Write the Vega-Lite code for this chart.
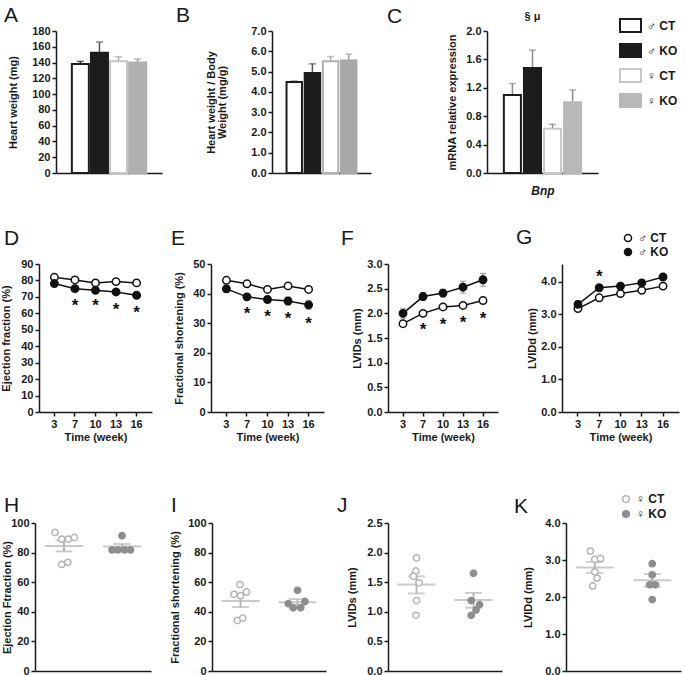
{
"$schema":"https://vega.github.io/schema/vega-lite/v6.json",
"padding":{"left":0,"top":5,"right":0,"bottom":0},
"background":"white",
"config":{
 "font":"Liberation Sans",
 "view":{"stroke":null},
 "axis":{"labelFont":"Liberation Sans","labelFontSize":11,"labelFontWeight":"bold","labelColor":"#1a1a1a","titleFont":"Liberation Sans","titleFontSize":11,"titleFontWeight":"bold","titleColor":"#1a1a1a","domainColor":"#1a1a1a","domainWidth":1.5,"tickColor":"#1a1a1a","tickWidth":1.5,"tickSize":4,"grid":false,"labelPadding":2,"labelOverlap":false},
 "axisY":{"titlePadding":0,"tickCount":30},
 "legend":{"labelFont":"Liberation Sans","labelFontSize":12,"labelFontWeight":"bold","labelColor":"#1a1a1a","padding":0,"title":null},
 "title":{"fontSize":21,"fontWeight":"normal","font":"Liberation Sans","anchor":"start","frame":"group","color":"#1a1a1a","baseline":"alphabetic"}
},
"datasets":{
 "bars":[
  {"panel":"A","group":"♂ CT","mean":138.3,"hi":141.5},
  {"panel":"A","group":"♂ KO","mean":152.3,"hi":166},
  {"panel":"A","group":"♀ CT","mean":141.7,"hi":147.5},
  {"panel":"A","group":"♀ KO","mean":140,"hi":144.5},
  {"panel":"B","group":"♂ CT","mean":4.48,"hi":4.52},
  {"panel":"B","group":"♂ KO","mean":4.93,"hi":5.38},
  {"panel":"B","group":"♀ CT","mean":5.51,"hi":5.74},
  {"panel":"B","group":"♀ KO","mean":5.55,"hi":5.86},
  {"panel":"C","group":"♂ CT","mean":1.1,"hi":1.26},
  {"panel":"C","group":"♂ KO","mean":1.48,"hi":1.73},
  {"panel":"C","group":"♀ CT","mean":0.625,"hi":0.685},
  {"panel":"C","group":"♀ KO","mean":0.995,"hi":1.17}
 ],
 "lines":[
  {"panel":"D","group":"♂ CT","week":3,"value":81.9,"lo":81.1,"hi":82.7},
  {"panel":"D","group":"♂ CT","week":7,"value":80.3,"lo":79.6,"hi":81.0},
  {"panel":"D","group":"♂ CT","week":10,"value":78.5,"lo":77.8,"hi":79.2},
  {"panel":"D","group":"♂ CT","week":13,"value":79.3,"lo":78.6,"hi":80.0},
  {"panel":"D","group":"♂ CT","week":16,"value":78.5,"lo":77.7,"hi":79.3},
  {"panel":"D","group":"♂ KO","week":3,"value":78.1,"lo":76.9,"hi":79.3},
  {"panel":"D","group":"♂ KO","week":7,"value":75.0,"lo":73.9,"hi":76.1},
  {"panel":"D","group":"♂ KO","week":10,"value":74.0,"lo":72.9,"hi":75.1},
  {"panel":"D","group":"♂ KO","week":13,"value":73.0,"lo":71.8,"hi":74.2},
  {"panel":"D","group":"♂ KO","week":16,"value":71.0,"lo":69.6,"hi":72.4},
  {"panel":"E","group":"♂ CT","week":3,"value":44.5,"lo":43.8,"hi":45.2},
  {"panel":"E","group":"♂ CT","week":7,"value":43.3,"lo":42.5,"hi":44.1},
  {"panel":"E","group":"♂ CT","week":10,"value":41.4,"lo":40.8,"hi":42.0},
  {"panel":"E","group":"♂ CT","week":13,"value":42.6,"lo":42.0,"hi":43.2},
  {"panel":"E","group":"♂ CT","week":16,"value":41.4,"lo":40.7,"hi":42.1},
  {"panel":"E","group":"♂ KO","week":3,"value":41.6,"lo":40.4,"hi":42.8},
  {"panel":"E","group":"♂ KO","week":7,"value":38.9,"lo":38.0,"hi":39.8},
  {"panel":"E","group":"♂ KO","week":10,"value":38.0,"lo":37.2,"hi":38.8},
  {"panel":"E","group":"♂ KO","week":13,"value":37.5,"lo":36.2,"hi":38.8},
  {"panel":"E","group":"♂ KO","week":16,"value":36.2,"lo":34.7,"hi":37.7},
  {"panel":"F","group":"♂ CT","week":3,"value":1.79,"lo":1.73,"hi":1.85},
  {"panel":"F","group":"♂ CT","week":7,"value":2.0,"lo":1.97,"hi":2.03},
  {"panel":"F","group":"♂ CT","week":10,"value":2.13,"lo":2.10,"hi":2.16},
  {"panel":"F","group":"♂ CT","week":13,"value":2.16,"lo":2.13,"hi":2.19},
  {"panel":"F","group":"♂ CT","week":16,"value":2.26,"lo":2.22,"hi":2.30},
  {"panel":"F","group":"♂ KO","week":3,"value":2.0,"lo":1.9,"hi":2.1},
  {"panel":"F","group":"♂ KO","week":7,"value":2.34,"lo":2.26,"hi":2.42},
  {"panel":"F","group":"♂ KO","week":10,"value":2.41,"lo":2.33,"hi":2.49},
  {"panel":"F","group":"♂ KO","week":13,"value":2.53,"lo":2.41,"hi":2.65},
  {"panel":"F","group":"♂ KO","week":16,"value":2.68,"lo":2.55,"hi":2.81},
  {"panel":"G","group":"♂ CT","week":3,"value":3.18,"lo":3.1,"hi":3.26},
  {"panel":"G","group":"♂ CT","week":7,"value":3.51,"lo":3.48,"hi":3.54},
  {"panel":"G","group":"♂ CT","week":10,"value":3.64,"lo":3.61,"hi":3.67},
  {"panel":"G","group":"♂ CT","week":13,"value":3.74,"lo":3.7,"hi":3.78},
  {"panel":"G","group":"♂ CT","week":16,"value":3.87,"lo":3.83,"hi":3.91},
  {"panel":"G","group":"♂ KO","week":3,"value":3.31,"lo":3.2,"hi":3.42},
  {"panel":"G","group":"♂ KO","week":7,"value":3.82,"lo":3.77,"hi":3.87},
  {"panel":"G","group":"♂ KO","week":10,"value":3.87,"lo":3.82,"hi":3.92},
  {"panel":"G","group":"♂ KO","week":13,"value":3.97,"lo":3.91,"hi":4.03},
  {"panel":"G","group":"♂ KO","week":16,"value":4.15,"lo":4.09,"hi":4.21}
 ],
 "stars":[
  {"panel":"D","week":7,"y":66.7},{"panel":"D","week":10,"y":66.7},{"panel":"D","week":13,"y":64.7},{"panel":"D","week":16,"y":62.7},
  {"panel":"E","week":7,"y":34.3},{"panel":"E","week":10,"y":33.6},{"panel":"E","week":13,"y":32.8},{"panel":"E","week":16,"y":31.0},
  {"panel":"F","week":7,"y":1.74},{"panel":"F","week":10,"y":1.84},{"panel":"F","week":13,"y":1.88},{"panel":"F","week":16,"y":1.96},
  {"panel":"G","week":7,"y":4.26}
 ],
 "dots":[
  {"panel":"H","group":"♀ CT","value":93.6,"jit":-3.1},
  {"panel":"H","group":"♀ CT","value":89.1,"jit":-0.8},
  {"panel":"H","group":"♀ CT","value":89.1,"jit":1.5},
  {"panel":"H","group":"♀ CT","value":90.2,"jit":3.6},
  {"panel":"H","group":"♀ CT","value":72.0,"jit":-0.8},
  {"panel":"H","group":"♀ CT","value":73.4,"jit":1.3},
  {"panel":"H","group":"♀ KO","value":91.4,"jit":0},
  {"panel":"H","group":"♀ KO","value":81.8,"jit":-3.4},
  {"panel":"H","group":"♀ KO","value":81.8,"jit":-1.4},
  {"panel":"H","group":"♀ KO","value":81.8,"jit":0.9},
  {"panel":"H","group":"♀ KO","value":81.8,"jit":2.9},
  {"panel":"I","group":"♀ CT","value":58.4,"jit":-0.2},
  {"panel":"I","group":"♀ CT","value":51.8,"jit":-2.3},
  {"panel":"I","group":"♀ CT","value":50.9,"jit":0},
  {"panel":"I","group":"♀ CT","value":53.4,"jit":2.1},
  {"panel":"I","group":"♀ CT","value":34.1,"jit":-1.1},
  {"panel":"I","group":"♀ CT","value":35.7,"jit":0.8},
  {"panel":"I","group":"♀ KO","value":54.5,"jit":0},
  {"panel":"I","group":"♀ KO","value":45.5,"jit":-3.2},
  {"panel":"I","group":"♀ KO","value":47.0,"jit":2.6},
  {"panel":"I","group":"♀ KO","value":42.7,"jit":-1.5},
  {"panel":"I","group":"♀ KO","value":42.7,"jit":1.1},
  {"panel":"J","group":"♀ CT","value":1.91,"jit":0},
  {"panel":"J","group":"♀ CT","value":1.69,"jit":-0.2},
  {"panel":"J","group":"♀ CT","value":1.60,"jit":-1.1},
  {"panel":"J","group":"♀ CT","value":1.49,"jit":0.9},
  {"panel":"J","group":"♀ CT","value":1.19,"jit":0},
  {"panel":"J","group":"♀ CT","value":0.94,"jit":-0.2},
  {"panel":"J","group":"♀ KO","value":1.65,"jit":0},
  {"panel":"J","group":"♀ KO","value":1.19,"jit":-0.8},
  {"panel":"J","group":"♀ KO","value":1.12,"jit":2.1},
  {"panel":"J","group":"♀ KO","value":1.03,"jit":0.9},
  {"panel":"J","group":"♀ KO","value":0.94,"jit":-0.8},
  {"panel":"K","group":"♀ CT","value":3.24,"jit":-1.5},
  {"panel":"K","group":"♀ CT","value":3.02,"jit":0},
  {"panel":"K","group":"♀ CT","value":3.04,"jit":2.0},
  {"panel":"K","group":"♀ CT","value":2.68,"jit":0},
  {"panel":"K","group":"♀ CT","value":2.51,"jit":0.8},
  {"panel":"K","group":"♀ CT","value":2.30,"jit":-0.7},
  {"panel":"K","group":"♀ KO","value":2.90,"jit":0},
  {"panel":"K","group":"♀ KO","value":2.60,"jit":0},
  {"panel":"K","group":"♀ KO","value":2.33,"jit":-0.9},
  {"panel":"K","group":"♀ KO","value":2.33,"jit":1.1},
  {"panel":"K","group":"♀ KO","value":1.93,"jit":0}
 ],
 "summ":[
  {"panel":"H","group":"♀ CT","mean":84.5,"lo":80.8,"hi":88.3},
  {"panel":"H","group":"♀ KO","mean":84.1,"lo":82.4,"hi":85.8},
  {"panel":"I","group":"♀ CT","mean":47.3,"lo":43.2,"hi":51.6},
  {"panel":"I","group":"♀ KO","mean":46.5,"lo":44.5,"hi":48.6},
  {"panel":"J","group":"♀ CT","mean":1.46,"lo":1.31,"hi":1.60},
  {"panel":"J","group":"♀ KO","mean":1.20,"lo":1.07,"hi":1.32},
  {"panel":"K","group":"♀ CT","mean":2.80,"lo":2.65,"hi":2.95},
  {"panel":"K","group":"♀ KO","mean":2.45,"lo":2.28,"hi":2.62}
 ]
},
"bounds":"flush",
"align":"each",
"columns":4,
"spacing":{"row":91,"column":0},
"resolve":{"scale":{"fill":"independent","stroke":"independent","color":"independent","xOffset":"independent"},"legend":{"fill":"independent","stroke":"independent","color":"independent"}},
"concat":[
 {"width":176,"height":142,
  "title":{"text":"A","dx":-31,"offset":3,"dy":4},
  "data":{"name":"bars"},"transform":[{"filter":"datum.panel==='A'"}],
  "encoding":{"x":{"field":"group","type":"nominal","sort":["♂ CT","♂ KO","♀ CT","♀ KO"],"scale":{"domain":["♂ CT","♂ KO","♀ CT","♀ KO"],"range":[21,127],"paddingInner":0.11,"paddingOuter":0.83},"axis":{"title":null,"labels":false,"ticks":false}}},
  "layer":[
   {"mark":{"type":"rule","strokeWidth":1.5},"encoding":{"y":{"field":"mean","type":"quantitative","scale":{"domain":[0,180],"nice":false},"axis":{"title":"Heart weight (mg)","values":[0,20,40,60,80,100,120,140,160,180],"tickCount":30,"labelOverlap":false,"offset":-21,"minExtent":38,"maxExtent":38}},"y2":{"field":"hi"},"color":{"field":"group","type":"nominal","scale":{"domain":["♂ CT","♂ KO","♀ CT","♀ KO"],"range":["#222222","#555555","#aaaaaa","#a0a0a0"]},"legend":null}}},
   {"mark":{"type":"bar","strokeWidth":2},"encoding":{"y":{"field":"mean","type":"quantitative","scale":{"domain":[0,180],"nice":false}},"fill":{"field":"group","type":"nominal","scale":{"domain":["♂ CT","♂ KO","♀ CT","♀ KO"],"range":["white","#1c1c1c","white","#b0b0b0"]},"legend":null},"stroke":{"field":"group","type":"nominal","scale":{"domain":["♂ CT","♂ KO","♀ CT","♀ KO"],"range":["#1c1c1c","#1c1c1c","#c4c4c4","#b0b0b0"]},"legend":null}}},
   {"mark":{"type":"tick","size":7,"thickness":1.5},"encoding":{"y":{"field":"hi","type":"quantitative","scale":{"domain":[0,180],"nice":false}},"color":{"field":"group","type":"nominal","scale":{"domain":["♂ CT","♂ KO","♀ CT","♀ KO"],"range":["#222222","#555555","#aaaaaa","#a0a0a0"]},"legend":null}}}
  ]},
 {"width":177,"height":142,
  "title":{"text":"B","dx":-35,"offset":3,"dy":4},
  "data":{"name":"bars"},"transform":[{"filter":"datum.panel==='B'"}],
  "encoding":{"x":{"field":"group","type":"nominal","sort":["♂ CT","♂ KO","♀ CT","♀ KO"],"scale":{"domain":["♂ CT","♂ KO","♀ CT","♀ KO"],"range":[61,160],"paddingInner":0.15,"paddingOuter":0.8},"axis":{"title":null,"labels":false,"ticks":false}}},
  "layer":[
   {"mark":{"type":"rule","strokeWidth":1.5},"encoding":{"y":{"field":"mean","type":"quantitative","scale":{"domain":[0,7],"nice":false},"axis":{"title":["Heart weight / Body","Weight (mg/g)"],"values":[0,1,2,3,4,5,6,7],"tickCount":30,"format":".1f","labelOverlap":false,"offset":-61,"minExtent":45,"maxExtent":45,"titleLineHeight":11}},"y2":{"field":"hi"},"color":{"field":"group","type":"nominal","scale":{"domain":["♂ CT","♂ KO","♀ CT","♀ KO"],"range":["#222222","#555555","#aaaaaa","#a0a0a0"]},"legend":null}}},
   {"mark":{"type":"bar","strokeWidth":2},"encoding":{"y":{"field":"mean","type":"quantitative","scale":{"domain":[0,7],"nice":false}},"fill":{"field":"group","type":"nominal","scale":{"domain":["♂ CT","♂ KO","♀ CT","♀ KO"],"range":["white","#1c1c1c","white","#a8a8a8"]},"legend":null},"stroke":{"field":"group","type":"nominal","scale":{"domain":["♂ CT","♂ KO","♀ CT","♀ KO"],"range":["#1c1c1c","#1c1c1c","#b0b0b0","#a8a8a8"]},"legend":null}}},
   {"mark":{"type":"tick","size":7,"thickness":1.5},"encoding":{"y":{"field":"hi","type":"quantitative","scale":{"domain":[0,7],"nice":false}},"color":{"field":"group","type":"nominal","scale":{"domain":["♂ CT","♂ KO","♀ CT","♀ KO"],"range":["#222222","#555555","#aaaaaa","#a0a0a0"]},"legend":null}}}
  ]},
 {"width":174,"height":142,
  "title":{"text":"C","dx":-1,"offset":5,"dy":21},
  "data":{"name":"bars"},"transform":[{"filter":"datum.panel==='C'"}],
  "encoding":{"x":{"field":"group","type":"nominal","sort":["♂ CT","♂ KO","♀ CT","♀ KO"],"scale":{"domain":["♂ CT","♂ KO","♀ CT","♀ KO"],"range":[99,210],"paddingInner":0.15,"paddingOuter":0.84},"axis":{"title":"Bnp","titleFontStyle":"italic","titleFontSize":12,"titlePadding":12,"labels":false,"ticks":false}}},
  "layer":[
   {"mark":{"type":"rule","strokeWidth":1.5,"color":"#8c8c8c"},"encoding":{"y":{"field":"mean","type":"quantitative","scale":{"domain":[0,2],"nice":false},"axis":{"title":"mRNA relative expression","values":[0,0.4,0.8,1.2,1.6,2.0],"tickCount":30,"format":".1f","labelOverlap":false,"offset":-99,"minExtent":30,"maxExtent":30}},"y2":{"field":"hi"}}},
   {"mark":{"type":"bar","strokeWidth":2},"encoding":{"y":{"field":"mean","type":"quantitative","scale":{"domain":[0,2],"nice":false}},
     "fill":{"field":"group","type":"nominal","scale":{"domain":["♂ CT","♂ KO","♀ CT","♀ KO"],"range":["white","#1c1c1c","white","#b8b8b8"]},"legend":{"orient":"none","legendX":231,"legendY":-17,"symbolType":"M-1,-0.62H1V0.62H-1Z","symbolSize":441,"symbolStrokeWidth":2,"rowPadding":2,"labelOffset":5,"encode":{"symbols":{"update":{"stroke":{"signal":"datum.value === '♀ CT' ? '#c8c8c8' : (datum.value === '♀ KO' ? '#b8b8b8' : '#1c1c1c')"},"strokeWidth":{"value":2}}}}}},
     "stroke":{"field":"group","type":"nominal","scale":{"domain":["♂ CT","♂ KO","♀ CT","♀ KO"],"range":["#1c1c1c","#1c1c1c","#c8c8c8","#b8b8b8"]},"legend":null}}},
   {"mark":{"type":"tick","size":7,"thickness":1.5,"color":"#8c8c8c"},"encoding":{"y":{"field":"hi","type":"quantitative","scale":{"domain":[0,2],"nice":false}}}},
   {"data":{"values":[{"note":"§ μ"}]},"mark":{"type":"text","fontSize":11,"fontWeight":"bold","color":"#1a1a1a"},"encoding":{"text":{"field":"note"},"x":{"datum":"♂ KO"},"y":{"datum":2.2,"type":"quantitative","scale":{"domain":[0,2],"nice":false}}}}
  ]},
 {"width":122,"height":142,"data":{"values":[]},"mark":"point"},
 {"width":176,"height":148,
  "title":{"text":"D","dx":-31,"offset":9},
  "encoding":{"x":{"field":"week","type":"ordinal","scale":{"domain":[3,7,10,13,16],"range":[4,117],"padding":0.5},"axis":{"title":"Time (week)","labelAngle":0,"titlePadding":2}}},
  "layer":[
   {"data":{"name":"lines"},"transform":[{"filter":"datum.panel==='D'"}],"mark":{"type":"rule","color":"#8a8a8a","strokeWidth":1.2},"encoding":{"y":{"field":"lo","type":"quantitative","scale":{"domain":[0,90],"nice":false},"axis":{"title":"Ejection fraction (%)","values":[0,10,20,30,40,50,60,70,80,90],"tickCount":30,"labelOverlap":false,"offset":-4,"minExtent":28,"maxExtent":28}},"y2":{"field":"hi"}}},
   {"data":{"name":"lines"},"transform":[{"filter":"datum.panel==='D'"}],"mark":{"type":"tick","color":"#8a8a8a","size":6,"thickness":1.2},"encoding":{"y":{"field":"lo","type":"quantitative","scale":{"domain":[0,90],"nice":false}}}},
   {"data":{"name":"lines"},"transform":[{"filter":"datum.panel==='D'"}],"mark":{"type":"tick","color":"#8a8a8a","size":6,"thickness":1.2},"encoding":{"y":{"field":"hi","type":"quantitative","scale":{"domain":[0,90],"nice":false}}}},
   {"data":{"name":"lines"},"transform":[{"filter":"datum.panel==='D'"}],"mark":{"type":"line","color":"#111111","strokeWidth":1.5},"encoding":{"y":{"field":"value","type":"quantitative","scale":{"domain":[0,90],"nice":false}},"detail":{"field":"group","type":"nominal"}}},
   {"data":{"name":"lines"},"transform":[{"filter":"datum.panel==='D'"}],"mark":{"type":"point","shape":"circle","size":55,"stroke":"#111111","strokeWidth":1.5,"opacity":1},"encoding":{"y":{"field":"value","type":"quantitative","scale":{"domain":[0,90],"nice":false}},"fill":{"field":"group","type":"nominal","scale":{"domain":["♂ CT","♂ KO"],"range":["white","#111111"]},"legend":null}}},
   {"data":{"name":"stars"},"transform":[{"filter":"datum.panel==='D'"}],"mark":{"type":"text","text":"*","fontSize":17,"fontWeight":"bold","dy":4,"color":"#111111"},"encoding":{"y":{"field":"y","type":"quantitative","scale":{"domain":[0,90],"nice":false}}}}
  ]},
 {"width":177,"height":148,
  "title":{"text":"E","dx":-40,"offset":9},
  "encoding":{"x":{"field":"week","type":"ordinal","scale":{"domain":[3,7,10,13,16],"range":[0,113],"padding":0.5},"axis":{"title":"Time (week)","labelAngle":0,"titlePadding":2}}},
  "layer":[
   {"data":{"name":"lines"},"transform":[{"filter":"datum.panel==='E'"}],"mark":{"type":"rule","color":"#8a8a8a","strokeWidth":1.2},"encoding":{"y":{"field":"lo","type":"quantitative","scale":{"domain":[0,50],"nice":false},"axis":{"title":"Fractional shortening (%)","values":[0,10,20,30,40,50],"tickCount":30,"labelOverlap":false,"minExtent":27,"maxExtent":27}},"y2":{"field":"hi"}}},
   {"data":{"name":"lines"},"transform":[{"filter":"datum.panel==='E'"}],"mark":{"type":"tick","color":"#8a8a8a","size":6,"thickness":1.2},"encoding":{"y":{"field":"lo","type":"quantitative","scale":{"domain":[0,50],"nice":false}}}},
   {"data":{"name":"lines"},"transform":[{"filter":"datum.panel==='E'"}],"mark":{"type":"tick","color":"#8a8a8a","size":6,"thickness":1.2},"encoding":{"y":{"field":"hi","type":"quantitative","scale":{"domain":[0,50],"nice":false}}}},
   {"data":{"name":"lines"},"transform":[{"filter":"datum.panel==='E'"}],"mark":{"type":"line","color":"#111111","strokeWidth":1.5},"encoding":{"y":{"field":"value","type":"quantitative","scale":{"domain":[0,50],"nice":false}},"detail":{"field":"group","type":"nominal"}}},
   {"data":{"name":"lines"},"transform":[{"filter":"datum.panel==='E'"}],"mark":{"type":"point","shape":"circle","size":55,"stroke":"#111111","strokeWidth":1.5,"opacity":1},"encoding":{"y":{"field":"value","type":"quantitative","scale":{"domain":[0,50],"nice":false}},"fill":{"field":"group","type":"nominal","scale":{"domain":["♂ CT","♂ KO"],"range":["white","#111111"]},"legend":null}}},
   {"data":{"name":"stars"},"transform":[{"filter":"datum.panel==='E'"}],"mark":{"type":"text","text":"*","fontSize":17,"fontWeight":"bold","dy":4,"color":"#111111"},"encoding":{"y":{"field":"y","type":"quantitative","scale":{"domain":[0,50],"nice":false}}}}
  ]},
 {"width":174,"height":148,
  "title":{"text":"F","dx":-47,"offset":9},
  "encoding":{"x":{"field":"week","type":"ordinal","scale":{"domain":[3,7,10,13,16],"range":[0,110],"padding":0.5},"axis":{"title":"Time (week)","labelAngle":0,"titlePadding":2}}},
  "layer":[
   {"data":{"name":"lines"},"transform":[{"filter":"datum.panel==='F'"}],"mark":{"type":"rule","color":"#8a8a8a","strokeWidth":1.2},"encoding":{"y":{"field":"lo","type":"quantitative","scale":{"domain":[0,3],"nice":false},"axis":{"title":"LVIDs (mm)","values":[0,0.5,1,1.5,2,2.5,3],"tickCount":30,"format":".1f","labelOverlap":false,"minExtent":26,"maxExtent":26}},"y2":{"field":"hi"}}},
   {"data":{"name":"lines"},"transform":[{"filter":"datum.panel==='F'"}],"mark":{"type":"tick","color":"#8a8a8a","size":6,"thickness":1.2},"encoding":{"y":{"field":"lo","type":"quantitative","scale":{"domain":[0,3],"nice":false}}}},
   {"data":{"name":"lines"},"transform":[{"filter":"datum.panel==='F'"}],"mark":{"type":"tick","color":"#8a8a8a","size":6,"thickness":1.2},"encoding":{"y":{"field":"hi","type":"quantitative","scale":{"domain":[0,3],"nice":false}}}},
   {"data":{"name":"lines"},"transform":[{"filter":"datum.panel==='F'"}],"mark":{"type":"line","color":"#111111","strokeWidth":1.5},"encoding":{"y":{"field":"value","type":"quantitative","scale":{"domain":[0,3],"nice":false}},"detail":{"field":"group","type":"nominal"}}},
   {"data":{"name":"lines"},"transform":[{"filter":"datum.panel==='F'"}],"mark":{"type":"point","shape":"circle","size":55,"stroke":"#111111","strokeWidth":1.5,"opacity":1},"encoding":{"y":{"field":"value","type":"quantitative","scale":{"domain":[0,3],"nice":false}},"fill":{"field":"group","type":"nominal","scale":{"domain":["♂ CT","♂ KO"],"range":["white","#111111"]},"legend":null}}},
   {"data":{"name":"stars"},"transform":[{"filter":"datum.panel==='F'"}],"mark":{"type":"text","text":"*","fontSize":17,"fontWeight":"bold","dy":4,"color":"#111111"},"encoding":{"y":{"field":"y","type":"quantitative","scale":{"domain":[0,3],"nice":false}}}}
  ]},
 {"width":122,"height":148,
  "title":{"text":"G","dx":-46,"offset":17,"dy":33},
  "encoding":{"x":{"field":"week","type":"ordinal","scale":{"domain":[3,7,10,13,16],"range":[0,117],"padding":0.5},"axis":{"title":"Time (week)","labelAngle":0,"titlePadding":2}}},
  "layer":[
   {"data":{"name":"lines"},"transform":[{"filter":"datum.panel==='G'"}],"mark":{"type":"rule","color":"#8a8a8a","strokeWidth":1.2},"encoding":{"y":{"field":"lo","type":"quantitative","scale":{"domain":[0,4.55],"nice":false},"axis":{"title":"LVIDd (mm)","values":[0,1,2,3,4],"tickCount":30,"format":".1f","labelOverlap":false,"minExtent":25,"maxExtent":25}},"y2":{"field":"hi"}}},
   {"data":{"name":"lines"},"transform":[{"filter":"datum.panel==='G'"}],"mark":{"type":"tick","color":"#8a8a8a","size":6,"thickness":1.2},"encoding":{"y":{"field":"lo","type":"quantitative","scale":{"domain":[0,4.55],"nice":false}}}},
   {"data":{"name":"lines"},"transform":[{"filter":"datum.panel==='G'"}],"mark":{"type":"tick","color":"#8a8a8a","size":6,"thickness":1.2},"encoding":{"y":{"field":"hi","type":"quantitative","scale":{"domain":[0,4.55],"nice":false}}}},
   {"data":{"name":"lines"},"transform":[{"filter":"datum.panel==='G'"}],"mark":{"type":"line","color":"#111111","strokeWidth":1.5},"encoding":{"y":{"field":"value","type":"quantitative","scale":{"domain":[0,4.55],"nice":false}},"detail":{"field":"group","type":"nominal"}}},
   {"data":{"name":"lines"},"transform":[{"filter":"datum.panel==='G'"}],"mark":{"type":"point","shape":"circle","size":55,"stroke":"#111111","strokeWidth":1.5,"opacity":1},"encoding":{"y":{"field":"value","type":"quantitative","scale":{"domain":[0,4.55],"nice":false}},"fill":{"field":"group","type":"nominal","scale":{"domain":["♂ CT","♂ KO"],"range":["white","#111111"]},"legend":{"orient":"none","legendX":60,"legendY":-32,"symbolType":"circle","symbolSize":50,"symbolStrokeColor":"#111111","symbolStrokeWidth":1.5,"rowPadding":0}}}},
   {"data":{"name":"stars"},"transform":[{"filter":"datum.panel==='G'"}],"mark":{"type":"text","text":"*","fontSize":17,"fontWeight":"bold","dy":4,"color":"#111111"},"encoding":{"y":{"field":"y","type":"quantitative","scale":{"domain":[0,4.55],"nice":false}}}}
  ]},
 {"width":176,"height":168,
  "title":{"text":"H","dx":-31,"offset":3,"dy":16},
  "encoding":{"x":{"field":"group","type":"nominal","sort":["♀ CT","♀ KO"],"scale":{"domain":["♀ CT","♀ KO"],"range":[0,116],"paddingInner":0,"paddingOuter":0},"axis":{"title":null,"labels":false,"ticks":false}}},
  "layer":[
   {"data":{"name":"summ"},"transform":[{"filter":"datum.panel==='H'"}],"mark":{"type":"rule","color":"#b4b4b4","strokeWidth":1.8},"encoding":{"y":{"field":"lo","type":"quantitative","scale":{"domain":[0,100],"nice":false,"range":[168,20]},"axis":{"title":"Ejection Ftraction (%)","values":[0,20,40,60,80,100],"tickCount":30,"labelOverlap":false,"minExtent":23,"maxExtent":23}},"y2":{"field":"hi"}}},
   {"data":{"name":"summ"},"transform":[{"filter":"datum.panel==='H'"}],"mark":{"type":"tick","color":"#b4b4b4","size":17,"thickness":1.8},"encoding":{"y":{"field":"lo","type":"quantitative","scale":{"domain":[0,100],"nice":false,"range":[168,20]}}}},
   {"data":{"name":"summ"},"transform":[{"filter":"datum.panel==='H'"}],"mark":{"type":"tick","color":"#b4b4b4","size":17,"thickness":1.8},"encoding":{"y":{"field":"hi","type":"quantitative","scale":{"domain":[0,100],"nice":false,"range":[168,20]}}}},
   {"data":{"name":"summ"},"transform":[{"filter":"datum.panel==='H'"}],"mark":{"type":"tick","color":"#b4b4b4","size":38,"thickness":2},"encoding":{"y":{"field":"mean","type":"quantitative","scale":{"domain":[0,100],"nice":false,"range":[168,20]}}}},
   {"data":{"name":"dots"},"transform":[{"filter":"datum.panel==='H'"}],"mark":{"type":"point","shape":"circle","size":40,"strokeWidth":1.5,"opacity":1},"encoding":{"y":{"field":"value","type":"quantitative","scale":{"domain":[0,100],"nice":false,"range":[168,20]}},"xOffset":{"field":"jit","type":"quantitative","scale":{"domain":[-10,10]}},"fill":{"field":"group","type":"nominal","scale":{"domain":["♀ CT","♀ KO"],"range":["white","#8e8e8e"]},"legend":null},"stroke":{"field":"group","type":"nominal","scale":{"domain":["♀ CT","♀ KO"],"range":["#b4b4b4","#8e8e8e"]},"legend":null}}}
  ]},
 {"width":177,"height":168,
  "title":{"text":"I","dx":-40,"offset":3,"dy":16},
  "encoding":{"x":{"field":"group","type":"nominal","sort":["♀ CT","♀ KO"],"scale":{"domain":["♀ CT","♀ KO"],"range":[1,115],"paddingInner":0,"paddingOuter":0},"axis":{"title":null,"labels":false,"ticks":false}}},
  "layer":[
   {"data":{"name":"summ"},"transform":[{"filter":"datum.panel==='I'"}],"mark":{"type":"rule","color":"#b4b4b4","strokeWidth":1.8},"encoding":{"y":{"field":"lo","type":"quantitative","scale":{"domain":[0,100],"nice":false,"range":[168,20]},"axis":{"title":"Fractional shortening (%)","values":[0,20,40,60,80,100],"tickCount":30,"labelOverlap":false,"offset":-1,"minExtent":32,"maxExtent":32}},"y2":{"field":"hi"}}},
   {"data":{"name":"summ"},"transform":[{"filter":"datum.panel==='I'"}],"mark":{"type":"tick","color":"#b4b4b4","size":17,"thickness":1.8},"encoding":{"y":{"field":"lo","type":"quantitative","scale":{"domain":[0,100],"nice":false,"range":[168,20]}}}},
   {"data":{"name":"summ"},"transform":[{"filter":"datum.panel==='I'"}],"mark":{"type":"tick","color":"#b4b4b4","size":17,"thickness":1.8},"encoding":{"y":{"field":"hi","type":"quantitative","scale":{"domain":[0,100],"nice":false,"range":[168,20]}}}},
   {"data":{"name":"summ"},"transform":[{"filter":"datum.panel==='I'"}],"mark":{"type":"tick","color":"#b4b4b4","size":38,"thickness":2},"encoding":{"y":{"field":"mean","type":"quantitative","scale":{"domain":[0,100],"nice":false,"range":[168,20]}}}},
   {"data":{"name":"dots"},"transform":[{"filter":"datum.panel==='I'"}],"mark":{"type":"point","shape":"circle","size":40,"strokeWidth":1.5,"opacity":1},"encoding":{"y":{"field":"value","type":"quantitative","scale":{"domain":[0,100],"nice":false,"range":[168,20]}},"xOffset":{"field":"jit","type":"quantitative","scale":{"domain":[-10,10]}},"fill":{"field":"group","type":"nominal","scale":{"domain":["♀ CT","♀ KO"],"range":["white","#8e8e8e"]},"legend":null},"stroke":{"field":"group","type":"nominal","scale":{"domain":["♀ CT","♀ KO"],"range":["#b4b4b4","#8e8e8e"]},"legend":null}}}
  ]},
 {"width":174,"height":168,
  "title":{"text":"J","dx":-51,"offset":3,"dy":16},
  "encoding":{"x":{"field":"group","type":"nominal","sort":["♀ CT","♀ KO"],"scale":{"domain":["♀ CT","♀ KO"],"range":[0,114],"paddingInner":0,"paddingOuter":0},"axis":{"title":null,"labels":false,"ticks":false}}},
  "layer":[
   {"data":{"name":"summ"},"transform":[{"filter":"datum.panel==='J'"}],"mark":{"type":"rule","color":"#b4b4b4","strokeWidth":1.8},"encoding":{"y":{"field":"lo","type":"quantitative","scale":{"domain":[0,2.5],"nice":false,"range":[168,20]},"axis":{"title":"LVIDs (mm)","values":[0,0.5,1,1.5,2,2.5],"tickCount":30,"format":".1f","labelOverlap":false,"minExtent":31,"maxExtent":31}},"y2":{"field":"hi"}}},
   {"data":{"name":"summ"},"transform":[{"filter":"datum.panel==='J'"}],"mark":{"type":"tick","color":"#b4b4b4","size":17,"thickness":1.8},"encoding":{"y":{"field":"lo","type":"quantitative","scale":{"domain":[0,2.5],"nice":false,"range":[168,20]}}}},
   {"data":{"name":"summ"},"transform":[{"filter":"datum.panel==='J'"}],"mark":{"type":"tick","color":"#b4b4b4","size":17,"thickness":1.8},"encoding":{"y":{"field":"hi","type":"quantitative","scale":{"domain":[0,2.5],"nice":false,"range":[168,20]}}}},
   {"data":{"name":"summ"},"transform":[{"filter":"datum.panel==='J'"}],"mark":{"type":"tick","color":"#b4b4b4","size":38,"thickness":2},"encoding":{"y":{"field":"mean","type":"quantitative","scale":{"domain":[0,2.5],"nice":false,"range":[168,20]}}}},
   {"data":{"name":"dots"},"transform":[{"filter":"datum.panel==='J'"}],"mark":{"type":"point","shape":"circle","size":40,"strokeWidth":1.5,"opacity":1},"encoding":{"y":{"field":"value","type":"quantitative","scale":{"domain":[0,2.5],"nice":false,"range":[168,20]}},"xOffset":{"field":"jit","type":"quantitative","scale":{"domain":[-10,10]}},"fill":{"field":"group","type":"nominal","scale":{"domain":["♀ CT","♀ KO"],"range":["white","#8e8e8e"]},"legend":null},"stroke":{"field":"group","type":"nominal","scale":{"domain":["♀ CT","♀ KO"],"range":["#b4b4b4","#8e8e8e"]},"legend":null}}}
  ]},
 {"width":122,"height":168,
  "title":{"text":"K","dx":-48,"offset":0,"dy":24},
  "encoding":{"x":{"field":"group","type":"nominal","sort":["♀ CT","♀ KO"],"scale":{"domain":["♀ CT","♀ KO"],"range":[4,119],"paddingInner":0,"paddingOuter":0},"axis":{"title":null,"labels":false,"ticks":false}}},
  "layer":[
   {"data":{"name":"summ"},"transform":[{"filter":"datum.panel==='K'"}],"mark":{"type":"rule","color":"#b4b4b4","strokeWidth":1.8},"encoding":{"y":{"field":"lo","type":"quantitative","scale":{"domain":[0,4],"nice":false,"range":[168,20]},"axis":{"title":"LVIDd (mm)","values":[0,1,2,3,4],"tickCount":30,"format":".1f","labelOverlap":false,"offset":-4,"minExtent":33,"maxExtent":33}},"y2":{"field":"hi"}}},
   {"data":{"name":"summ"},"transform":[{"filter":"datum.panel==='K'"}],"mark":{"type":"tick","color":"#b4b4b4","size":17,"thickness":1.8},"encoding":{"y":{"field":"lo","type":"quantitative","scale":{"domain":[0,4],"nice":false,"range":[168,20]}}}},
   {"data":{"name":"summ"},"transform":[{"filter":"datum.panel==='K'"}],"mark":{"type":"tick","color":"#b4b4b4","size":17,"thickness":1.8},"encoding":{"y":{"field":"hi","type":"quantitative","scale":{"domain":[0,4],"nice":false,"range":[168,20]}}}},
   {"data":{"name":"summ"},"transform":[{"filter":"datum.panel==='K'"}],"mark":{"type":"tick","color":"#b4b4b4","size":38,"thickness":2},"encoding":{"y":{"field":"mean","type":"quantitative","scale":{"domain":[0,4],"nice":false,"range":[168,20]}}}},
   {"data":{"name":"dots"},"transform":[{"filter":"datum.panel==='K'"}],"mark":{"type":"point","shape":"circle","size":40,"strokeWidth":1.5,"opacity":1},"encoding":{"y":{"field":"value","type":"quantitative","scale":{"domain":[0,4],"nice":false,"range":[168,20]}},"xOffset":{"field":"jit","type":"quantitative","scale":{"domain":[-10,10]}},"fill":{"field":"group","type":"nominal","scale":{"domain":["♀ CT","♀ KO"],"range":["white","#8e8e8e"]},"legend":{"orient":"none","legendX":58,"legendY":-10,"symbolType":"circle","symbolSize":45,"symbolStrokeWidth":1.5,"rowPadding":1,"encode":{"symbols":{"update":{"stroke":{"signal":"datum.value === '♀ CT' ? '#b4b4b4' : '#8e8e8e'"},"strokeWidth":{"value":1.5}}}}}},"stroke":{"field":"group","type":"nominal","scale":{"domain":["♀ CT","♀ KO"],"range":["#b4b4b4","#8e8e8e"]},"legend":null}}}
  ]}
]
}
